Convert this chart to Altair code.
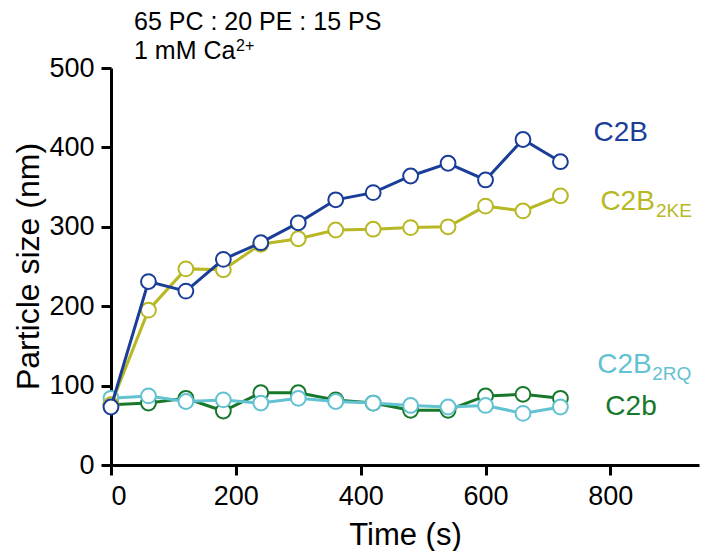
import altair as alt
import pandas as pd

# ---- data ----
time_s = [0, 60, 120, 180, 240, 300, 360, 420, 480, 540, 600, 660, 720]
c2b_wt = [73, 231, 219, 259, 280, 305, 334, 343, 364, 380, 359, 410, 382]
c2b_2ke = [76, 195, 247, 246, 278, 285, 296, 297, 299, 300, 326, 320, 339]
c2b_2rq = [84, 87, 80, 82, 78, 84, 80, 78, 75, 73, 75, 65, 73]
c2b_small = [76, 78, 84, 68, 91, 91, 82, 78, 69, 69, 87, 89, 84]

# draw order: bottom -> top
series_names = ["C2b", "C2B2RQ", "C2B2KE", "C2B"]
series_colors = ["#17782b", "#62c2d1", "#b7b823", "#1a3e98"]
series_values = [c2b_small, c2b_2rq, c2b_2ke, c2b_wt]

# series labels (data coordinates of text anchors)
label_main = ["C2b", "C2B", "C2B", "C2B"]
label_sub = ["", "2RQ", "2KE", ""]
label_x = [792, 779, 784, 773]
label_y = [63, 116, 321, 408]
sub_x = [0, 867, 873, 0]
sub_y = [0, 107, 312, 0]

title_line1 = "65 PC : 20 PE : 15 PS"
title_line2 = "1 mM Ca"
title_sup = "2+"

FONT = "Liberation Sans"

rows = []
for name, vals in zip(series_names, series_values):
    for t, v in zip(time_s, vals):
        rows.append({"series": name, "time": t, "size": v})
df = pd.DataFrame(rows)

x_enc = alt.X(
    "time:Q",
    scale=alt.Scale(domain=[0, 942], nice=False, zero=True),
    axis=alt.Axis(values=[0, 200, 400, 600, 800], title="Time (s)",
                  titleY=79, titleBaseline="alphabetic", titleFontSize=31,
                  labelPadding=8),
)
y_enc = alt.Y(
    "size:Q",
    scale=alt.Scale(domain=[0, 500], nice=False),
    axis=alt.Axis(values=[0, 100, 200, 300, 400, 500], title="Particle size (nm)",
                  titleX=-73, titleY=198, titleBaseline="alphabetic", titleFontSize=32,
                  labelPadding=7),
)

layers = []
for name, col in zip(series_names, series_colors):
    base = alt.Chart(df).transform_filter(alt.datum.series == name)
    layers.append(base.mark_line(color=col, strokeWidth=3).encode(x=x_enc, y=y_enc))
    layers.append(
        base.mark_point(shape="circle", filled=True, fill="white", stroke=col,
                        strokeWidth=2, size=220, opacity=1).encode(x=x_enc, y=y_enc)
    )

lab_df = pd.DataFrame({"text": label_main, "x": label_x, "y": label_y, "color": series_colors})
layers.append(
    alt.Chart(lab_df).mark_text(align="left", baseline="alphabetic", fontSize=28, font=FONT).encode(
        x="x:Q", y="y:Q", text="text:N", color=alt.Color("color:N", scale=None)
    )
)
sub_df = pd.DataFrame({"text": label_sub, "x": sub_x, "y": sub_y, "color": series_colors})
sub_df = sub_df[sub_df["text"] != ""]
layers.append(
    alt.Chart(sub_df).mark_text(align="left", baseline="alphabetic", fontSize=19, font=FONT).encode(
        x="x:Q", y="y:Q", text="text:N", color=alt.Color("color:N", scale=None)
    )
)

# header annotations (pixel positions relative to plot origin)
hdr = alt.Chart(pd.DataFrame({"t": [title_line1]})).mark_text(
    align="left", baseline="alphabetic", fontSize=25, font=FONT, color="black"
).encode(text="t:N", x=alt.value(23), y=alt.value(-38))
hdr2 = alt.Chart(pd.DataFrame({"t": [title_line2]})).mark_text(
    align="left", baseline="alphabetic", fontSize=25, font=FONT, color="black"
).encode(text="t:N", x=alt.value(23), y=alt.value(-9))
hdr3 = alt.Chart(pd.DataFrame({"t": [title_sup]})).mark_text(
    align="left", baseline="alphabetic", fontSize=16, font=FONT, color="black"
).encode(text="t:N", x=alt.value(125), y=alt.value(-17))
layers += [hdr, hdr2, hdr3]

chart = (
    alt.layer(*layers)
    .properties(
        width=588,
        height=397,
        autosize=alt.AutoSizeParams(type="none"),
        padding={"left": 103, "top": 60, "right": 2, "bottom": 86},
    )
    .configure_view(stroke=None)
    .configure_axis(
        grid=False,
        domainColor="black",
        domainWidth=3,
        tickColor="black",
        tickWidth=3,
        tickSize=10,
        labelFont=FONT,
        labelFontSize=27,
        labelColor="black",
        titleFont=FONT,
        titleFontWeight="normal",
        titleColor="black",
    )
)

chart.save("out.html", embed_options={"renderer": "svg", "actions": False})
